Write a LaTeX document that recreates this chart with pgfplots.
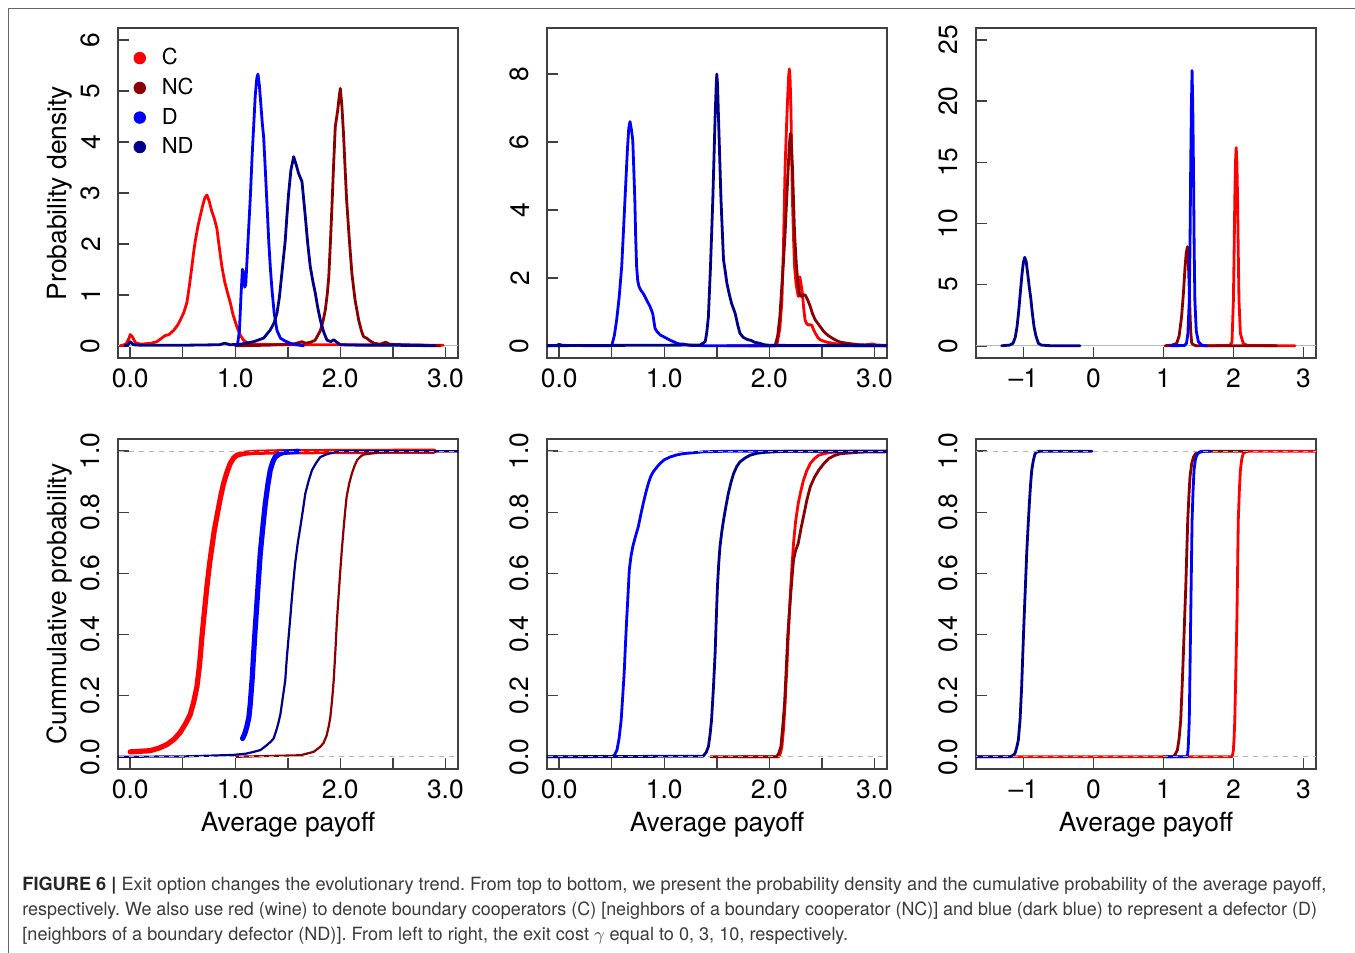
\documentclass[border=0pt]{standalone}
\usepackage{fontspec}
\setmainfont{TeX Gyre Heros}
\usepackage{graphicx}
\usepackage{pgfplots}
\pgfplotsset{compat=1.18}
\definecolor{cC}{HTML}{FF0000}
\definecolor{cNC}{HTML}{8B0000}
\definecolor{cD}{HTML}{0000FF}
\definecolor{cND}{HTML}{00008B}
\definecolor{boxgray}{HTML}{404040}
\definecolor{gray70}{HTML}{B3B3B3}
\definecolor{capgray}{HTML}{3A3A3A}
\newcommand\pf{\fontsize{13.2}{15}\selectfont}

\pgfplotsset{
 rpanel/.style={
  scale only axis, width=170pt, height=165pt, anchor=south west,
  axis line style={boxgray, line width=0.75pt},
  tick style={boxgray, line width=0.75pt},
  tick align=inside, tick pos=left, major tick length=5.5pt,
  minor tick num=0,
  tick label style={font=\pf},
  xticklabel style={anchor=north, inner sep=0pt},
  xticklabel shift=5.3pt,
  yticklabel style={rotate=90, anchor=south, inner sep=0pt},
  yticklabel shift=8.8pt,
 },
 cv/.style={line width=1.4pt, line join=round, line cap=round},
 xA/.style={xmin=-0.116, xmax=3.12, xtick={0,0.5,1,1.5,2,2.5,3}, xticklabels={0.0,,1.0,,2.0,,3.0}},
 xB/.style={xmin=-1.676, xmax=3.18, xtick={-1,0,1,2,3}, xticklabels={\textendash1,0,1,2,3}},
 cdf/.style={ymin=-0.04, ymax=1.04, ytick={0,0.2,0.4,0.6,0.8,1}, yticklabels={0.0,0.2,0.4,0.6,0.8,1.0}},
 zl/.style={gray!55, line width=0.3pt},
 dl/.style={gray70, line width=0.65pt, dash pattern=on 2.5pt off 2.5pt},
}

\begin{document}
\frenchspacing
\begin{tikzpicture}
\path[use as bounding box] (0,0) rectangle (677.5pt,476.5pt);
\draw[black!60, line width=0.6pt] (4.15pt,0) -- (4.15pt,472.35pt) -- (677.5pt,472.35pt);

% ---------- top left: density, gamma = 0
\begin{axis}[rpanel, xA, at={(59pt,297.5pt)},
 ymin=-0.24, ymax=6.235, ytick={0,1,2,3,4,5,6}, yticklabels={0,1,2,3,4,5,6},
 legend style={draw=none, fill=none, at={(rel axis cs:0,1)}, anchor=north west,
  xshift=7.6pt, yshift=-10pt, font=\fontsize{11}{13}\selectfont,
  inner sep=0pt, nodes={inner sep=0pt}, row sep=5.2pt, column sep=7.9pt},
 legend cell align=left,
 legend image code/.code={\fill[#1] (0pt,0pt) circle (2.9pt);}]
\addlegendimage{cC}\addlegendentry{C}
\addlegendimage{cNC}\addlegendentry{NC}
\addlegendimage{cD}\addlegendentry{D}
\addlegendimage{cND}\addlegendentry{ND}
\addplot[zl, forget plot] coordinates {(-0.2,0) (3.2,0)};
\addplot[cC, cv, forget plot] coordinates {(-0.095,0) (-0.04,0.03) (-0.01,0.15) (0.0,0.22) (0.02,0.18) (0.05,0.06) (0.1,0.03) (0.2,0.05) (0.254,0.08) (0.3,0.15) (0.333,0.2) (0.37,0.22) (0.413,0.3) (0.45,0.4) (0.476,0.5) (0.51,0.65) (0.54,0.85) (0.565,1.2) (0.587,1.55) (0.605,1.85) (0.619,2.05) (0.645,2.35) (0.667,2.55) (0.69,2.75) (0.71,2.9) (0.73,2.96) (0.75,2.85) (0.775,2.65) (0.8,2.5) (0.825,2.3) (0.85,1.9) (0.873,1.55) (0.9,1.25) (0.925,1.05) (0.952,0.85) (0.98,0.6) (1.016,0.37) (1.05,0.2) (1.079,0.11) (1.12,0.05) (1.2,0.03) (1.5,0.02) (2.0,0.02) (2.5,0.015) (2.98,0.01)};
\addplot[cNC, cv, forget plot] coordinates {(1.0,0) (1.3,0.01) (1.55,0.03) (1.6,0.06) (1.635,0.08) (1.67,0.05) (1.72,0.07) (1.76,0.11) (1.785,0.2) (1.81,0.3) (1.835,0.48) (1.857,0.7) (1.875,1.0) (1.89,1.35) (1.905,2.0) (1.92,2.72) (1.935,3.5) (1.952,4.3) (1.975,4.62) (1.99,4.9) (2.0,5.05) (2.015,4.7) (2.03,4.17) (2.045,3.5) (2.06,2.86) (2.085,2.1) (2.11,1.42) (2.14,0.9) (2.175,0.5) (2.2,0.3) (2.22,0.18) (2.25,0.15) (2.28,0.1) (2.32,0.05) (2.38,0.03) (2.43,0.07) (2.47,0.03) (2.6,0.02) (2.8,0.01) (2.95,0)};
\addplot[cD, cv, forget plot] coordinates {(1.02,0) (1.04,0.3) (1.055,1.0) (1.068,1.5) (1.078,1.45) (1.09,1.15) (1.1,1.2) (1.12,2.0) (1.143,2.9) (1.16,3.7) (1.175,4.3) (1.19,4.9) (1.205,5.25) (1.216,5.33) (1.23,5.1) (1.245,4.7) (1.258,4.35) (1.27,4.1) (1.285,3.5) (1.3,2.86) (1.32,2.0) (1.335,1.5) (1.35,1.09) (1.37,0.65) (1.397,0.3) (1.43,0.15) (1.46,0.11) (1.52,0.05) (1.58,0.02) (1.65,0)};
\addplot[cND, cv, forget plot] coordinates {(-0.05,0) (-0.02,0.02) (0.0,0.08) (0.03,0.02) (0.1,0.01) (0.5,0.01) (0.85,0.02) (0.9,0.05) (0.95,0.02) (1.05,0.03) (1.175,0.08) (1.27,0.15) (1.33,0.3) (1.37,0.45) (1.397,0.64) (1.42,0.95) (1.44,1.35) (1.46,1.75) (1.476,2.07) (1.49,2.5) (1.508,2.99) (1.53,3.45) (1.556,3.71) (1.58,3.55) (1.603,3.38) (1.635,3.22) (1.65,2.9) (1.667,2.53) (1.69,2.0) (1.714,1.55) (1.74,1.25) (1.762,1.03) (1.785,0.75) (1.81,0.5) (1.84,0.28) (1.873,0.11) (1.91,0.08) (1.937,0.12) (1.96,0.08) (2.0,0.02) (2.2,0.01) (2.5,0.01) (2.9,0)};
\end{axis}

% ---------- top middle: density, gamma = 3
\begin{axis}[rpanel, xA, at={(273.5pt,297.5pt)},
 ymin=-0.362, ymax=9.355, ytick={0,2,4,6,8}, yticklabels={0,2,4,6,8}]
\addplot[zl] coordinates {(-0.2,0) (3.2,0)};
\addplot[cC, cv] coordinates {(1.8,0) (2.07,0) (2.1,0.5) (2.12,1.34) (2.135,3.0) (2.15,5.25) (2.163,6.4) (2.173,7.2) (2.183,7.9) (2.19,8.15) (2.197,7.9) (2.204,7.2) (2.212,5.8) (2.22,4.29) (2.23,3.2) (2.24,2.33) (2.255,1.8) (2.275,1.45) (2.285,1.9) (2.29,2.03) (2.3,1.85) (2.315,1.54) (2.327,1.1) (2.34,0.76) (2.355,0.65) (2.37,0.61) (2.39,0.62) (2.405,0.6) (2.42,0.48) (2.437,0.37) (2.46,0.25) (2.485,0.17) (2.55,0.1) (2.645,0.05) (2.75,0.03) (2.9,0.02) (2.98,0.05) (3.02,0.02) (3.12,0.01)};
\addplot[cNC, cv] coordinates {(1.6,0) (2.055,0) (2.08,0.3) (2.1,0.85) (2.12,1.8) (2.135,2.5) (2.15,3.3) (2.165,4.3) (2.18,5.25) (2.19,5.9) (2.2,6.25) (2.21,5.9) (2.22,5.25) (2.23,4.3) (2.24,3.3) (2.257,2.4) (2.275,1.74) (2.29,1.5) (2.3,1.45) (2.315,1.47) (2.34,1.5) (2.365,1.35) (2.39,1.15) (2.41,0.95) (2.437,0.76) (2.48,0.58) (2.52,0.41) (2.56,0.3) (2.6,0.22) (2.64,0.15) (2.68,0.1) (2.77,0.06) (2.85,0.03) (3.0,0.01) (3.12,0)};
\addplot[cD, cv] coordinates {(-0.12,0) (-0.02,0.01) (0.0,0.04) (0.03,0.01) (0.3,0) (0.5,0) (0.525,0.3) (0.547,0.76) (0.57,1.4) (0.595,2.33) (0.612,3.4) (0.626,4.29) (0.649,5.76) (0.662,6.4) (0.674,6.6) (0.688,6.35) (0.7,6.06) (0.71,5.2) (0.72,4.29) (0.728,3.2) (0.737,2.33) (0.748,1.9) (0.76,1.74) (0.78,1.62) (0.8,1.54) (0.833,1.34) (0.865,1.15) (0.89,0.95) (0.9,0.75) (0.912,0.51) (0.935,0.4) (0.96,0.32) (1.02,0.22) (1.05,0.17) (1.087,0.12) (1.12,0.07) (1.15,0.05) (1.18,0.05) (1.21,0.03) (1.245,0.01) (1.4,0) (3.12,0)};
\addplot[cND, cv] coordinates {(-0.12,0) (1.34,0.02) (1.39,0.12) (1.405,0.4) (1.42,0.85) (1.44,2.33) (1.462,4.29) (1.484,6.74) (1.495,7.7) (1.5,8.0) (1.507,7.7) (1.516,6.74) (1.54,4.29) (1.564,2.53) (1.58,2.2) (1.596,1.84) (1.62,1.5) (1.64,1.25) (1.675,0.95) (1.7,0.6) (1.72,0.37) (1.75,0.25) (1.785,0.19) (1.83,0.15) (1.86,0.1) (1.91,0.07) (1.95,0.03) (2.01,0.01) (3.12,0)};
\end{axis}

% ---------- top right: density, gamma = 10
\begin{axis}[rpanel, xB, at={(488pt,297.5pt)},
 ymin=-1.0, ymax=25.98, ytick={0,5,10,15,20,25}, yticklabels={0,5,10,15,20,25}]
\addplot[zl] coordinates {(-2,0) (3.5,0)};
\addplot[cC, cv] coordinates {(1.6,0) (1.95,0.02) (1.98,0.3) (2.0,3.7) (2.01,7.5) (2.02,11.9) (2.03,15.0) (2.04,16.2) (2.05,15.0) (2.06,11.9) (2.07,7.5) (2.08,3.7) (2.1,1.0) (2.14,0.2) (2.2,0.02) (2.88,0)};
\addplot[cNC, cv] coordinates {(1.024,0) (1.12,0.05) (1.19,0.2) (1.225,0.8) (1.26,2.37) (1.285,4.2) (1.31,6.45) (1.325,7.5) (1.343,8.1) (1.355,7.2) (1.367,5.1) (1.38,2.8) (1.39,1.2) (1.405,0.2) (1.44,0.05) (1.476,0) (2.62,0)};
\addplot[cD, cv] coordinates {(1.095,0) (1.3,0.02) (1.33,0.2) (1.35,1.0) (1.37,3.7) (1.38,8.0) (1.39,14.5) (1.4,19.5) (1.41,22.5) (1.42,19.5) (1.43,14.5) (1.44,8.0) (1.45,3.7) (1.47,1.2) (1.5,0.33) (1.55,0.05) (1.62,0)};
\addplot[cND, cv] coordinates {(-1.31,0) (-1.2,0.05) (-1.147,0.2) (-1.115,0.7) (-1.09,1.55) (-1.065,2.9) (-1.04,4.55) (-1.02,5.8) (-1.0,6.8) (-0.98,7.23) (-0.96,6.9) (-0.94,6.0) (-0.915,4.8) (-0.894,3.9) (-0.87,2.6) (-0.847,1.55) (-0.82,0.8) (-0.785,0.2) (-0.74,0.05) (-0.6,0) (-0.19,0)};
\end{axis}

% ---------- bottom left: cumulative, gamma = 0
\begin{axis}[rpanel, xA, cdf, at={(59pt,92pt)}]
\addplot[cC, cv, line width=2.6pt] coordinates {(0.0,0.016) (0.1,0.018) (0.19,0.02) (0.27,0.028) (0.35,0.04) (0.42,0.058) (0.476,0.08) (0.53,0.11) (0.571,0.138) (0.605,0.18) (0.635,0.229) (0.66,0.3) (0.683,0.393) (0.705,0.47) (0.73,0.556) (0.755,0.63) (0.778,0.687) (0.8,0.74) (0.825,0.786) (0.857,0.845) (0.889,0.895) (0.92,0.93) (0.952,0.96) (0.985,0.978) (1.016,0.987) (1.08,0.993) (1.17,0.996) (1.4,0.998) (2.0,0.999) (2.89,1.0)};
\addplot[cD, cv, line width=2.6pt] coordinates {(1.07,0.06) (1.09,0.075) (1.11,0.098) (1.13,0.13) (1.143,0.174) (1.16,0.25) (1.175,0.338) (1.19,0.42) (1.206,0.502) (1.222,0.585) (1.238,0.665) (1.262,0.75) (1.286,0.829) (1.31,0.89) (1.333,0.938) (1.357,0.965) (1.38,0.981) (1.42,0.991) (1.46,0.996) (1.6,1.0)};
\addplot[cNC, cv, line width=1.1pt] coordinates {(1.01,0) (1.62,0.005) (1.746,0.016) (1.81,0.033) (1.84,0.045) (1.87,0.07) (1.89,0.1) (1.905,0.13) (1.92,0.18) (1.937,0.25) (1.952,0.34) (1.968,0.447) (1.984,0.53) (2.0,0.611) (2.015,0.68) (2.03,0.742) (2.045,0.8) (2.06,0.851) (2.085,0.895) (2.11,0.927) (2.135,0.952) (2.16,0.971) (2.19,0.982) (2.22,0.989) (2.35,0.995) (2.57,1.0) (3.12,1.0)};
\addplot[cND, cv, line width=1.1pt] coordinates {(-0.116,0) (0.5,0.001) (0.98,0.006) (1.1,0.01) (1.175,0.016) (1.24,0.022) (1.3,0.038) (1.34,0.05) (1.365,0.06) (1.39,0.085) (1.41,0.11) (1.43,0.14) (1.455,0.2) (1.476,0.251) (1.49,0.32) (1.508,0.393) (1.525,0.46) (1.54,0.524) (1.555,0.58) (1.57,0.633) (1.595,0.7) (1.62,0.753) (1.645,0.81) (1.667,0.862) (1.7,0.905) (1.73,0.938) (1.77,0.962) (1.81,0.981) (1.87,0.99) (1.937,0.996) (2.0,1.0) (3.12,1.0)};
\addplot[dl] coordinates {(-0.2,0) (3.2,0)};
\addplot[dl] coordinates {(-0.2,1) (3.2,1)};
\end{axis}

% ---------- bottom middle: cumulative, gamma = 3
\begin{axis}[rpanel, xA, cdf, at={(273.5pt,92pt)}]
\addplot[cC, cv] coordinates {(1.7,0) (2.09,0) (2.105,0.012) (2.12,0.033) (2.135,0.09) (2.15,0.174) (2.165,0.28) (2.18,0.393) (2.192,0.475) (2.204,0.556) (2.217,0.63) (2.23,0.698) (2.25,0.77) (2.275,0.829) (2.3,0.87) (2.325,0.905) (2.355,0.935) (2.39,0.96) (2.43,0.976) (2.47,0.987) (2.52,0.992) (2.58,0.996) (2.8,1.0) (3.12,1.0)};
\addplot[cNC, cv] coordinates {(1.44,0) (2.07,0) (2.09,0.012) (2.11,0.033) (2.128,0.1) (2.145,0.174) (2.16,0.28) (2.175,0.393) (2.19,0.47) (2.204,0.534) (2.217,0.59) (2.23,0.644) (2.25,0.675) (2.275,0.698) (2.3,0.745) (2.325,0.786) (2.357,0.84) (2.39,0.884) (2.43,0.915) (2.47,0.938) (2.52,0.96) (2.565,0.976) (2.62,0.986) (2.68,0.992) (2.87,0.997) (3.12,0.998)};
\addplot[cD, cv] coordinates {(-0.116,0) (0.5,0) (0.525,0.005) (0.55,0.022) (0.57,0.06) (0.59,0.12) (0.605,0.2) (0.62,0.284) (0.631,0.37) (0.642,0.447) (0.655,0.53) (0.667,0.611) (0.683,0.655) (0.7,0.687) (0.725,0.72) (0.753,0.753) (0.775,0.79) (0.8,0.829) (0.825,0.865) (0.849,0.895) (0.872,0.918) (0.896,0.933) (0.93,0.948) (0.96,0.96) (1.0,0.972) (1.055,0.981) (1.12,0.988) (1.18,0.992) (1.37,0.998) (1.6,1.0) (3.12,1.0)};
\addplot[cND, cv] coordinates {(-0.116,0) (1.37,0.002) (1.4,0.015) (1.42,0.033) (1.435,0.07) (1.45,0.12) (1.467,0.22) (1.484,0.338) (1.495,0.45) (1.506,0.556) (1.518,0.63) (1.53,0.687) (1.547,0.735) (1.564,0.774) (1.587,0.82) (1.61,0.862) (1.635,0.898) (1.66,0.927) (1.69,0.95) (1.72,0.965) (1.77,0.978) (1.817,0.987) (1.88,0.993) (1.944,0.996) (2.17,1.0) (3.12,1.0)};
\addplot[dl] coordinates {(-0.2,0) (3.2,0)};
\addplot[dl] coordinates {(-0.2,1) (3.2,1)};
\end{axis}

% ---------- bottom right: cumulative, gamma = 10
\begin{axis}[rpanel, xB, cdf, at={(488pt,92pt)}]
\addplot[cC, cv] coordinates {(-1.676,0) (1.977,0) (1.99,0.008) (2.0,0.022) (2.01,0.06) (2.02,0.12) (2.035,0.28) (2.05,0.447) (2.06,0.61) (2.07,0.774) (2.085,0.87) (2.1,0.938) (2.12,0.975) (2.14,0.992) (2.17,0.998) (2.21,1.0) (3.18,1.0)};
\addplot[cNC, cv] coordinates {(1.0,0) (1.143,0) (1.17,0.008) (1.2,0.022) (1.225,0.06) (1.248,0.12) (1.268,0.23) (1.286,0.338) (1.303,0.45) (1.32,0.556) (1.334,0.665) (1.348,0.774) (1.364,0.85) (1.38,0.916) (1.405,0.96) (1.43,0.981) (1.46,0.992) (1.5,0.996) (1.6,1.0) (2.2,1.0)};
\addplot[cD, cv] coordinates {(1.05,0) (1.343,0) (1.355,0.03) (1.37,0.12) (1.38,0.28) (1.39,0.447) (1.4,0.61) (1.41,0.774) (1.424,0.87) (1.438,0.938) (1.455,0.97) (1.476,0.987) (1.51,0.996) (1.548,1.0) (1.67,1.0)};
\addplot[cND, cv] coordinates {(-1.676,0) (-1.19,0) (-1.15,0.004) (-1.119,0.011) (-1.095,0.03) (-1.071,0.055) (-1.047,0.12) (-1.024,0.229) (-1.007,0.34) (-0.99,0.447) (-0.97,0.56) (-0.952,0.665) (-0.933,0.75) (-0.914,0.829) (-0.897,0.89) (-0.88,0.938) (-0.857,0.97) (-0.833,0.992) (-0.8,0.998) (-0.76,1.0) (-0.02,1.0)};
\addplot[dl] coordinates {(-2,0) (3.5,0)};
\addplot[dl] coordinates {(-2,1) (3.5,1)};
\end{axis}

% ---------- axis titles
\node[rotate=90, anchor=base, font=\pf] at (33pt,380pt) {Probability density};
\node[rotate=90, anchor=base, font=\pf] at (33pt,174.5pt) {Cummulative probability};
\node[anchor=base, font=\pf] at (144pt,60.5pt) {Average payoff};
\node[anchor=base, font=\pf] at (358.5pt,60.5pt) {Average payoff};
\node[anchor=base, font=\pf] at (573pt,60.5pt) {Average payoff};

% ---------- caption
\begin{scope}[every node/.style={anchor=base west, inner sep=0pt, font=\fontsize{9.1}{10}\selectfont, text=capgray}]
\node at (11pt,31.25pt) {\textcolor{black!85}{\textbf{FIGURE 6 |}} Exit option changes the evolutionary trend. From top to bottom, we present the probability density and the cumulative probability of the average payoff,};
\node at (11pt,18.75pt) {\scalebox{0.985}[1]{respectively. We also use red (wine) to denote boundary cooperators (C) [neighbors of a boundary cooperator (NC)] and blue (dark blue) to represent a defector (D)}};
\node at (11pt,6.25pt) {\scalebox{0.995}[1]{[neighbors of a boundary defector (ND)]. From left to right, the exit cost $\gamma$ equal to 0, 3, 10, respectively.}};
\end{scope}
\end{tikzpicture}
\end{document}
